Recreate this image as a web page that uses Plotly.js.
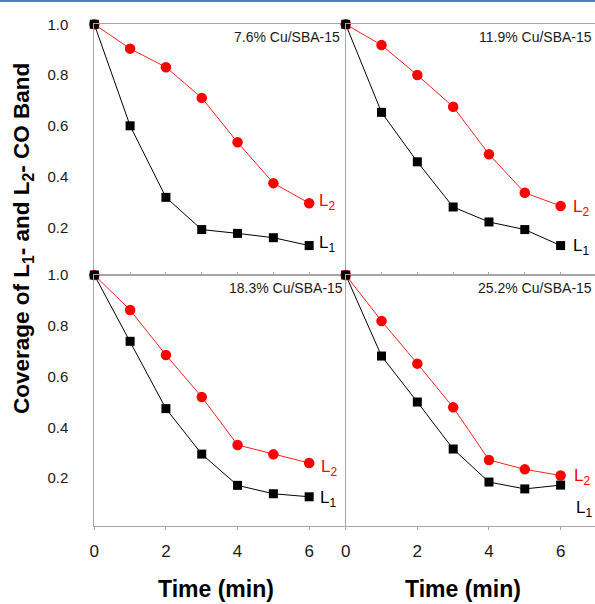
<!DOCTYPE html>
<html>
<head>
<meta charset="utf-8">
<script src="https://cdn.plot.ly/plotly-3.0.1.min.js"></script>
<style>html,body{margin:0;padding:0;background:#fff;}#chart{width:595px;height:604px;}</style>
</head>
<body>
<div id="chart"></div>
<script>
var time = [0, 1, 2, 3, 4, 5, 6];
var cu76_L1 = [1.0, 0.600, 0.318, 0.191, 0.176, 0.159, 0.128];
var cu76_L2 = [1.0, 0.904, 0.831, 0.710, 0.535, 0.374, 0.295];
var cu119_L1 = [1.0, 0.653, 0.458, 0.280, 0.221, 0.191, 0.128];
var cu119_L2 = [1.0, 0.918, 0.800, 0.675, 0.488, 0.336, 0.284];
var cu183_L1 = [1.0, 0.739, 0.474, 0.295, 0.172, 0.139, 0.127];
var cu183_L2 = [1.0, 0.862, 0.685, 0.520, 0.331, 0.294, 0.260];
var cu252_L1 = [1.0, 0.681, 0.500, 0.315, 0.185, 0.158, 0.173];
var cu252_L2 = [1.0, 0.819, 0.651, 0.479, 0.272, 0.235, 0.211];
var panelTitles = ['7.6% Cu/SBA-15', '11.9% Cu/SBA-15', '18.3% Cu/SBA-15', '25.2% Cu/SBA-15'];
var yTicks = [0.2, 0.4, 0.6, 0.8, 1.0];
var xTicks = [0, 2, 4, 6];

var FONT = 'Arial, "Liberation Sans", sans-serif';
var panels = [
  {L1: cu76_L1, L2: cu76_L2, xa: 'x', ya: 'y'},
  {L1: cu119_L1, L2: cu119_L2, xa: 'x2', ya: 'y2'},
  {L1: cu183_L1, L2: cu183_L2, xa: 'x3', ya: 'y3'},
  {L1: cu252_L1, L2: cu252_L2, xa: 'x4', ya: 'y4'}
];
var traces = [];
panels.forEach(function (p) {
  traces.push({x: time, y: p.L2, xaxis: p.xa, yaxis: p.ya, type: 'scatter', mode: 'lines+markers',
    cliponaxis: false, line: {color: '#ff2020', width: 1},
    marker: {symbol: 'circle', size: 10.5, color: '#ff0000'}, showlegend: false, hoverinfo: 'skip'});
  traces.push({x: time, y: p.L1, xaxis: p.xa, yaxis: p.ya, type: 'scatter', mode: 'lines+markers',
    cliponaxis: false, line: {color: '#000000', width: 1},
    marker: {symbol: 'square', size: 9, color: '#000000'}, showlegend: false, hoverinfo: 'skip'});
});

var W = 595, H = 604;
var xL = [94.3 / W, 345.7 / W], xR = [345.7 / W, 1.0];
var yT = [1 - 275 / H, 1 - 24.3 / H], yB = [1 - 526 / H, 1 - 275 / H];
var lineCol = '#a6a6a6';

function xaxisCfg(dom, range, bottom) {
  return {domain: dom, range: range, showgrid: false, zeroline: false, showline: true, mirror: true,
    linecolor: lineCol, linewidth: 1,
    ticks: bottom ? 'outside' : 'inside', tickcolor: lineCol, ticklen: 3,
    tickvals: bottom ? xTicks : time, showticklabels: bottom,
    tickfont: {family: FONT, size: 17, color: '#1a1a1a'}, ticklabelstandoff: 7, fixedrange: true};
}
function yaxisCfg(dom, labels) {
  return {domain: dom, range: [0.012, 1.0], showgrid: false, zeroline: false, showline: true, mirror: false,
    linecolor: lineCol, linewidth: 1, ticks: '', tickvals: yTicks, tickformat: '.1f',
    showticklabels: labels, tickfont: {family: FONT, size: 15, color: '#1a1a1a'},
    ticklabelstandoff: 22, fixedrange: true};
}

function lab(xref, yref, x, y, n, color) {
  return {xref: xref, yref: yref, x: x, y: y, xanchor: 'left', yanchor: 'middle', showarrow: false,
    text: 'L<sub>' + n + '</sub>', font: {family: FONT, size: 17, color: color}};
}
function ptitle(x, y, t) {
  return {xref: 'paper', yref: 'paper', x: x / W, y: 1 - y / H, xanchor: 'right', yanchor: 'middle',
    showarrow: false, text: t, font: {family: FONT, size: 14, color: '#1a1a1a'}};
}

var annotations = [
  ptitle(342, 37, panelTitles[0]), ptitle(594, 37, panelTitles[1]),
  ptitle(345, 288, panelTitles[2]), ptitle(594, 288, panelTitles[3]),
  lab('x', 'y', 6.22, 0.300, 2, '#ff0000'), lab('x', 'y', 6.22, 0.135, 1, '#000000'),
  lab('x2', 'y2', 6.3, 0.275, 2, '#ff0000'), lab('x2', 'y2', 6.3, 0.122, 1, '#000000'),
  lab('x3', 'y3', 6.28, 0.240, 2, '#ff0000'), lab('x3', 'y3', 6.26, 0.118, 1, '#000000'),
  lab('x4', 'y4', 6.32, 0.203, 2, '#ff0000'), lab('x4', 'y4', 6.36, 0.080, 1, '#000000'),
  {xref: 'paper', yref: 'paper', x: 23 / W, y: 1 - 239 / H, xanchor: 'center', yanchor: 'middle',
    textangle: -90, showarrow: false, text: 'Coverage of L<sub>1</sub>- and L<sub>2</sub>- CO Band',
    font: {family: FONT, size: 22.5, color: '#000000', weight: 'bold'}},
  {xref: 'paper', yref: 'paper', x: 216 / W, y: 1 - 589 / H, xanchor: 'center', yanchor: 'middle',
    showarrow: false, text: 'Time (min)', font: {family: FONT, size: 23, color: '#000000', weight: 'bold'}},
  {xref: 'paper', yref: 'paper', x: 463 / W, y: 1 - 589 / H, xanchor: 'center', yanchor: 'middle',
    showarrow: false, text: 'Time (min)', font: {family: FONT, size: 23, color: '#000000', weight: 'bold'}}
];

var layout = {
  width: W, height: H, margin: {l: 0, r: 0, t: 0, b: 0},
  paper_bgcolor: '#ffffff', plot_bgcolor: 'rgba(0,0,0,0)', showlegend: false,
  font: {family: FONT},
  xaxis: xaxisCfg(xL, [0, 7.02], false),
  xaxis2: xaxisCfg(xR, [0, 6.96], false),
  xaxis3: xaxisCfg(xL, [0, 7.02], true),
  xaxis4: xaxisCfg(xR, [0, 6.96], true),
  yaxis: yaxisCfg(yT, true),
  yaxis2: yaxisCfg(yT, false),
  yaxis3: yaxisCfg(yB, true),
  yaxis4: yaxisCfg(yB, false),
  annotations: annotations,
  shapes: [{type: 'line', xref: 'paper', yref: 'paper', x0: 0, x1: 1, y0: 1 - 1 / H, y1: 1 - 1 / H,
    line: {color: '#4f81bd', width: 2}}]
};
layout.xaxis.anchor = 'y'; layout.xaxis2.anchor = 'y2'; layout.xaxis3.anchor = 'y3'; layout.xaxis4.anchor = 'y4';
layout.yaxis.anchor = 'x'; layout.yaxis2.anchor = 'x2'; layout.yaxis3.anchor = 'x3'; layout.yaxis4.anchor = 'x4';

Plotly.newPlot('chart', traces, layout, {displayModeBar: false, staticPlot: true});
</script>
</body>
</html>
